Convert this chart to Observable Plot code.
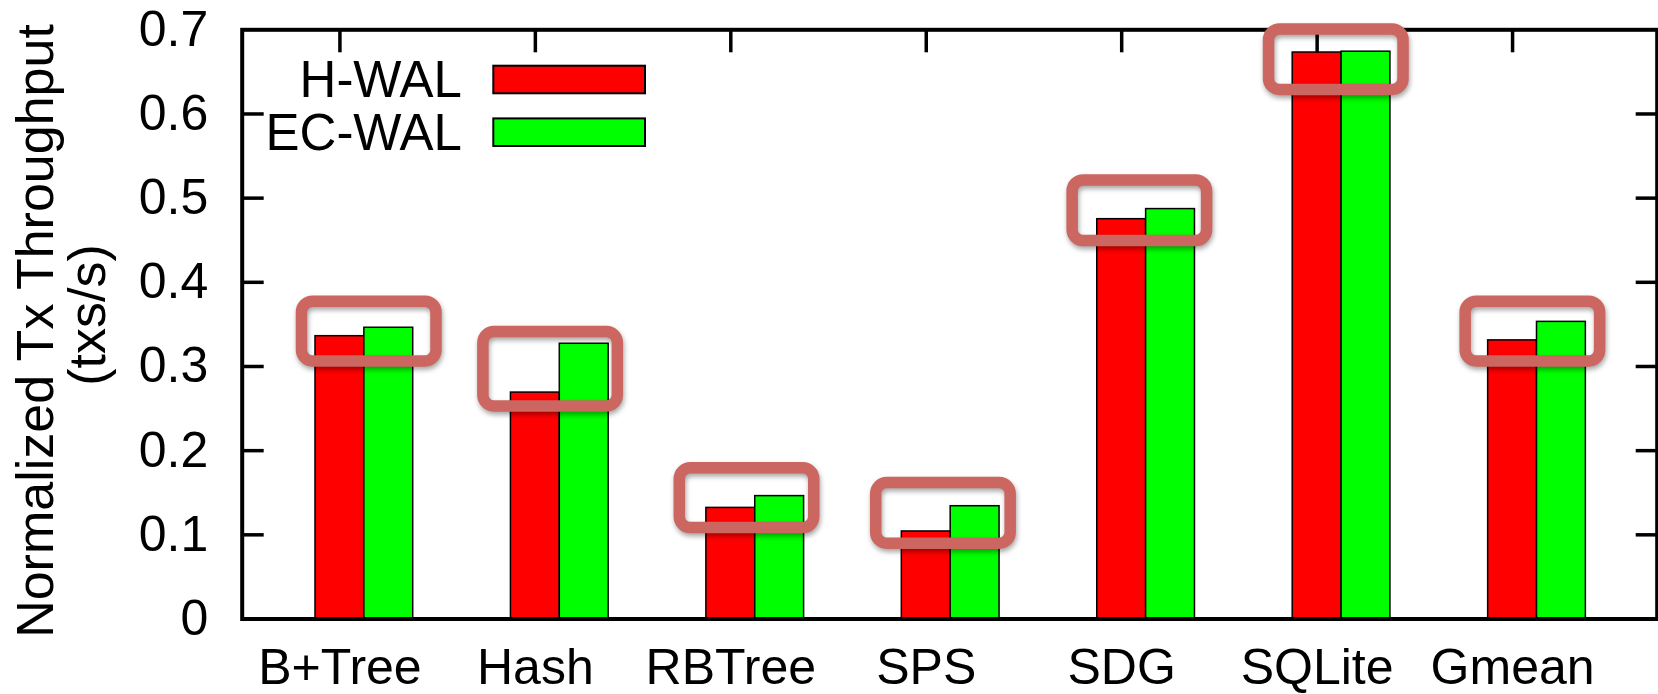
<!DOCTYPE html>
<html>
<head>
<meta charset="utf-8">
<script src="https://cdn.jsdelivr.net/npm/d3@7"></script>
<script src="https://cdn.jsdelivr.net/npm/@observablehq/plot@0.6"></script>
<style>
  html, body { margin: 0; padding: 0; background: white; overflow: hidden; }
  #chart { width: 1658px; height: 694px; }
  #chart svg { display: block; }
</style>
</head>
<body>
<div id="chart"></div>
<script>
// ---- data ----
const categories = ["B+Tree", "Hash", "RBTree", "SPS", "SDG", "SQLite", "Gmean"];
const series = ["H-WAL", "EC-WAL"];
const hWal  = [0.336, 0.269, 0.132, 0.104, 0.475, 0.673, 0.331];
const ecWal = [0.346, 0.327, 0.146, 0.134, 0.487, 0.674, 0.353];
const yTicks = [0, 0.1, 0.2, 0.3, 0.4, 0.5, 0.6, 0.7];
const yTitle = ["Normalized Tx Throughput", "(txs/s)"];
// highlight boxes (value range of each annotation box, and left offset from category)
const boxLow   = [0.306, 0.2525, 0.108, 0.0895, 0.449, 0.6285, 0.306];
const boxHigh  = [0.377, 0.341, 0.179, 0.1615, 0.521, 0.7005, 0.377];
const boxShift = [-0.194, -0.266, -0.261, -0.256, -0.251, -0.246, -0.240];

// ---- tables built from the arrays ----
const barW = 0.25;
const bars = [];
categories.forEach((c, i) => {
  bars.push({cat: c, i, series: series[0], value: hWal[i], x1: i - barW / 2, x2: i + barW / 2});
  bars.push({cat: c, i, series: series[1], value: ecWal[i], x1: i + barW / 2, x2: i + 1.5 * barW});
});
const boxW = 0.688;
const boxes = categories.map((c, i) => ({cat: c, x1: i + boxShift[i], x2: i + boxShift[i] + boxW, y1: boxLow[i], y2: boxHigh[i]}));
const idx = d3.range(categories.length);
const innerTicks = yTicks.slice(1, -1);

const font = "'Liberation Sans', Arial, Helvetica, sans-serif";

const plot = Plot.plot({
  width: 1658,
  height: 694,
  marginLeft: 241.7,
  marginRight: 1.3,
  marginTop: 29.3,
  marginBottom: 75.5,
  x: {type: "linear", domain: [-0.5, 6.74]},
  y: {domain: [0, 0.7]},
  color: {domain: series, range: ["#ff0000", "#00ff00"]},
  style: {fontFamily: font, fontSize: "51px", color: "black", background: "white", overflow: "visible"},
  marks: [
    Plot.rect(bars, {x1: "x1", x2: "x2", y1: 0, y2: "value", fill: "series", stroke: "black", strokeWidth: 1.5}),
    Plot.axisY(innerTicks, {anchor: "left", tickSize: 22, dx: 22, tickFormat: () => "", label: null, strokeWidth: 3.5}),
    Plot.axisY(innerTicks, {anchor: "right", tickSize: 22, dx: -22, tickFormat: () => "", label: null, strokeWidth: 3.5}),
    Plot.axisX(idx, {anchor: "top", tickSize: 22, dy: 22, tickFormat: () => "", label: null, strokeWidth: 3.5}),
    Plot.axisY(yTicks, {anchor: "left", tickSize: 0, tickPadding: 34, tickFormat: d => d === 0 ? "0" : d.toFixed(1), label: null, fontSize: 50}),
    Plot.axisX(idx, {anchor: "bottom", tickSize: 0, tickPadding: 29.5, tickFormat: i => categories[i], label: null, fontSize: 50}),
    Plot.frame({stroke: "black", strokeWidth: 4}),
    Plot.rect(boxes, {x1: "x1", x2: "x2", y1: "y1", y2: "y2", fill: "none", stroke: "#cc6660", strokeWidth: 11.5, rx: 11})
  ]
});

const svg = d3.select(plot);
// shadow on highlight boxes (last rect mark)
const rectGroups = svg.selectAll("g[aria-label='rect']").nodes();
d3.select(rectGroups[rectGroups.length - 1]).style("filter", "drop-shadow(1px 3px 2.5px rgba(0,0,0,0.35))");

// y-axis title (two lines, rotated)
const tpos = [{x: 53.3, y: 331}, {x: 105, y: 315}];
svg.append("g").attr("font-family", font).attr("font-size", 52).attr("fill", "black")
  .selectAll("text").data(yTitle).join("text")
  .attr("transform", (d, k) => `translate(${tpos[k].x},${tpos[k].y}) rotate(-90)`)
  .attr("text-anchor", "middle")
  .text(d => d);

// legend inside the frame, top-left
const color = plot.scale("color");
const lg = svg.append("g").attr("font-family", font).attr("font-size", 51);
series.forEach((s, k) => {
  const cy = 79.5 + k * 52.7;
  lg.append("text").attr("x", 462).attr("y", cy + 17.8).attr("text-anchor", "end").attr("fill", "black").text(s);
  lg.append("rect").attr("x", 493.3).attr("y", cy - 13.8).attr("width", 151.7).attr("height", 27.6)
    .attr("fill", color.apply(s)).attr("stroke", "black").attr("stroke-width", 2);
});

document.getElementById("chart").appendChild(plot);
</script>
</body>
</html>
